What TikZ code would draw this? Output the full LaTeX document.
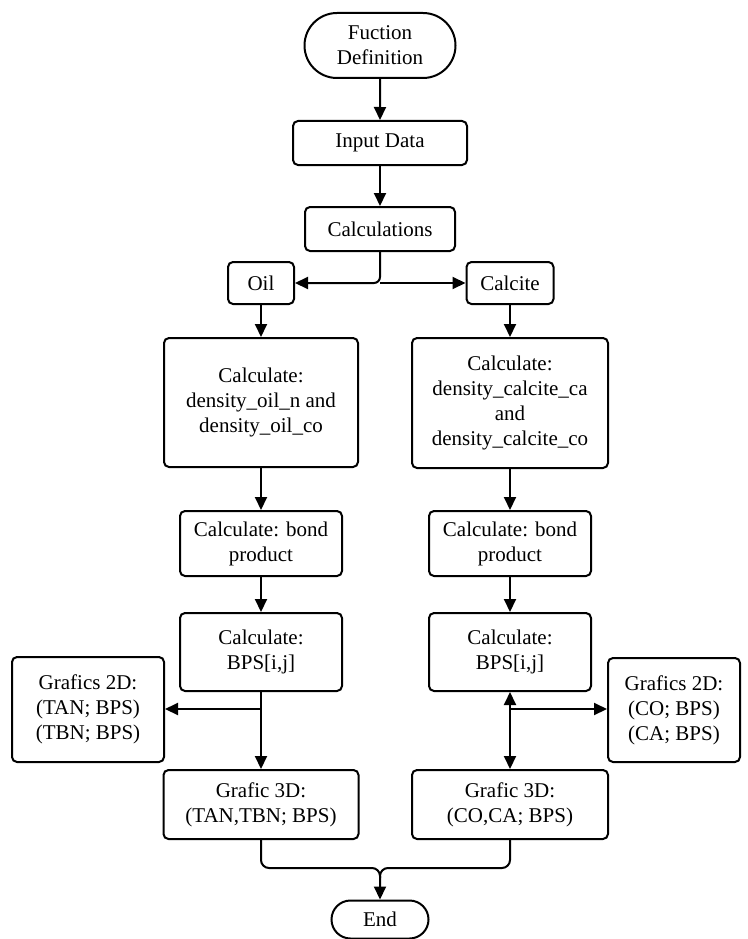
\documentclass[tikz,border=0pt]{standalone}
\usepackage{fontspec}
\setmainfont{Liberation Serif}
\usetikzlibrary{arrows.meta,shapes.misc}
\begin{document}
\begin{tikzpicture}[x=1pt,y=-1pt,
  every node/.style={font=\fontsize{21}{25}\selectfont},
  box/.style={draw,line width=2pt,rounded corners=5pt,align=center,inner sep=0pt},
  term/.style={draw,line width=2pt,rounded rectangle,align=center,inner sep=0pt},
  line/.style={line width=2pt},
  arr/.style={line width=2pt,-{Triangle[length=13pt,width=12pt]}},
  arrb/.style={line width=2pt,{Triangle[length=13pt,width=12pt]}-{Triangle[length=13pt,width=12pt]}}]
\useasboundingbox (0,0) rectangle (747,939);
\node[term,minimum width=151pt,minimum height=65pt] (fd) at (380,45.5) {Fuction\\Definition};
\node[box,minimum width=174pt,minimum height=44pt] (inp) at (380,143) {Input Data};
\node[box,minimum width=150pt,minimum height=44pt] (calc) at (380,229) {Calculations};
\node[box,minimum width=66pt,minimum height=42pt] (oil) at (261,283) {Oil};
\node[box,minimum width=87pt,minimum height=42pt] (calcite) at (510,283) {Calcite};
\node[box,minimum width=194pt,minimum height=129pt] (denl) at (261,402.5) {Calculate:\\density\_oil\_n and\\density\_oil\_co};
\node[box,minimum width=196pt,minimum height=130pt] (denr) at (510,403) {Calculate:\\density\_calcite\_ca\\and\\density\_calcite\_co};
\node[box,minimum width=162pt,minimum height=65pt] (bondl) at (261,543.5) {Calculate: bond\\product};
\node[box,minimum width=162pt,minimum height=65pt] (bondr) at (510,543.5) {Calculate: bond\\product};
\node[box,minimum width=162pt,minimum height=78pt] (bpsl) at (261,652) {Calculate:\\BPS[i,j]};
\node[box,minimum width=162pt,minimum height=78pt] (bpsr) at (510,652) {Calculate:\\BPS[i,j]};
\node[box,minimum width=152pt,minimum height=105pt] (g2l) at (88,709.5) {Grafics 2D:\\(TAN; BPS)\\(TBN; BPS)};
\node[box,minimum width=132pt,minimum height=104pt] (g2r) at (674,710) {Grafics 2D:\\(CO; BPS)\\(CA; BPS)};
\node[box,minimum width=195pt,minimum height=69pt] (g3l) at (261,804.5) {Grafic 3D:\\(TAN,TBN; BPS)};
\node[box,minimum width=196pt,minimum height=69pt] (g3r) at (510,804.5) {Grafic 3D:\\(CO,CA; BPS)};
\node[term,minimum width=97pt,minimum height=38pt] (end) at (380,919.5) {End};
\coordinate (jl) at (261,709);
\coordinate (jr) at (510,709);
\coordinate (m) at (380,868);
\draw[arr] (fd) -- (inp);
\draw[arr] (inp) -- (calc);
\draw[arr,rounded corners=6pt] (calc.south) |- (oil.east);
\draw[arr] (calc.south |- oil.east) -- (calcite.west);
\draw[arr] (oil) -- (denl);
\draw[arr] (calcite) -- (calcite |- denr.north);
\draw[arr] (denl) -- (bondl);
\draw[arr] (denr.south -| bondr) -- (bondr);
\draw[arr] (bondl) -- (bpsl);
\draw[arr] (bondr) -- (bpsr);
\draw[arr] (bpsl) -- (bpsl |- g3l.north);
\draw[arr] (jl) -- (jl -| g2l.east);
\draw[arrb] (bpsr) -- (bpsr |- g3r.north);
\draw[arr] (jr) -- (jr -| g2r.west);
\draw[arr,rounded corners=8pt] (g3l.south) |- (m) -- (end.north);
\draw[line,rounded corners=8pt] (g3r.south -| bpsr) |- (m) -- ++(0,10);
\end{tikzpicture}
\end{document}
